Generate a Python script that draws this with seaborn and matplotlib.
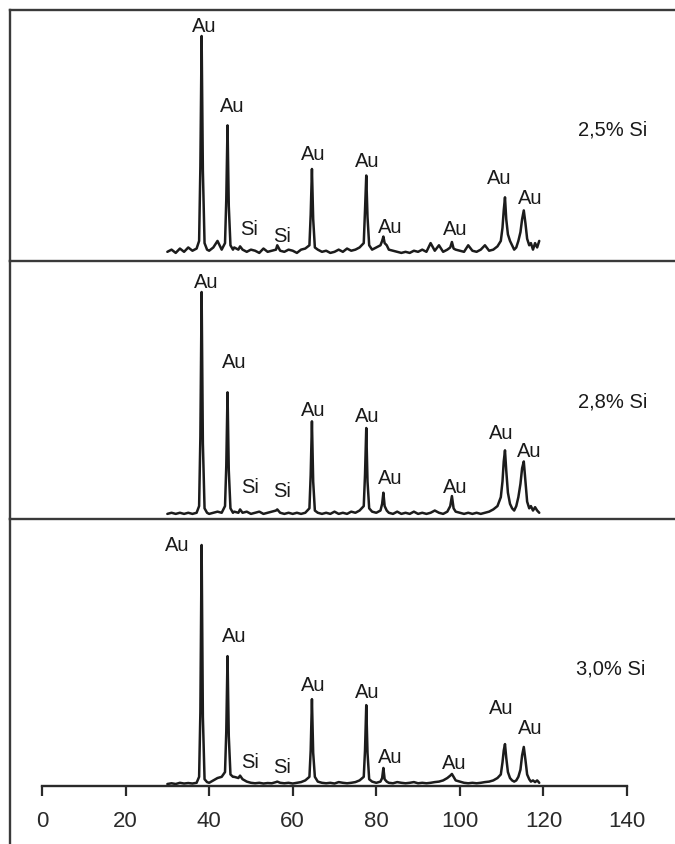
import matplotlib
matplotlib.use("Agg")
import matplotlib.pyplot as plt
import seaborn as sns
import pandas as pd

# ---- data -------------------------------------------------------------
two_theta = [
    30, 31, 32, 33, 34, 35, 36, 37,
    37.6, 37.9, 38.2, 38.5, 38.9,
    39.5, 40, 41, 42, 43,
    43.8, 44.1, 44.4, 44.7, 45.1,
    45.7, 46, 47, 47.4, 48, 49, 50, 51, 52, 53, 54, 55, 56, 56.3, 57, 58, 59, 60, 61, 62, 63,
    64.0, 64.3, 64.6, 64.9, 65.3,
    66, 67, 68, 69, 70, 71, 72, 73, 74, 75, 76,
    77.0, 77.3, 77.6, 77.9, 78.3,
    79, 80, 81,
    81.4, 81.7, 82.0,
    82.5, 83, 84, 85, 86, 87, 88, 89, 90, 91, 92, 93, 94, 95, 96, 97,
    97.7, 98.1, 98.5,
    99, 100, 101, 102, 103, 104, 105, 106, 107, 108, 109,
    109.8, 110.2, 110.5, 110.8, 111.1, 111.5, 112,
    112.5, 113, 113.5, 114,
    114.5, 114.9, 115.3, 115.7, 116.1,
    116.6, 117, 117.5, 118, 118.5, 119,
]

intensity_25 = [
    1, 2, 0.5, 2.5, 1, 3, 1.5, 2.5,
    6, 40, 100, 38, 5,
    2, 1.5, 3, 6, 2,
    5, 25, 59, 22, 4,
    2, 3, 2, 3.5, 2, 1, 2, 1.5, 0.5, 2.5, 1, 1.5, 2, 4, 1.5, 1, 2, 1.5, 0.5, 2, 2.5,
    4, 18, 39, 16, 3,
    2, 1, 1.5, 0.5, 1, 2, 1, 2.5, 1.5, 2, 3,
    5, 20, 36, 17, 4,
    2, 3, 4,
    6, 8, 5,
    4, 2, 1.5, 1, 0.5, 1, 0.5, 1.5, 1, 2, 1, 5, 1.5, 4, 1, 2,
    3, 5.5, 2.5,
    2, 1.5, 1, 4, 1.5, 1, 2, 4, 1.5, 2, 3.5,
    6, 12, 20, 26, 16, 9, 6,
    4, 2, 3, 6,
    10, 16, 20, 14, 7,
    4, 5, 2, 5, 3, 6,
]

intensity_28 = [
    0.5, 1, 0.5, 1, 0.5, 1, 0.5, 1,
    4, 35, 100, 32, 3,
    1, 0.5, 1, 1.5, 1,
    4, 22, 55, 20, 3,
    1, 1.5, 1, 2.5, 1, 1.5, 0.5, 1, 1.5, 0.5, 1, 1.5, 2, 2.5, 1, 0.5, 1, 0.5, 1, 0.5, 1,
    3, 18, 42, 15, 2,
    1, 0.5, 1, 0.5, 1.5, 0.5, 1, 0.5, 1.5, 1, 2,
    4, 18, 39, 15, 3,
    1.5, 1, 2,
    5, 10, 4,
    2, 1, 0.5, 1.5, 0.5, 1, 0.5, 1.5, 0.5, 1, 0.5, 1, 2, 1, 0.5, 1.5,
    4, 8.5, 3,
    1.5, 1, 0.5, 1, 0.5, 1, 0.5, 1, 1.5, 2.5, 4,
    8, 15, 24, 29, 20, 10, 5,
    3, 2, 4, 8,
    14, 21, 24, 15, 6,
    3, 4, 2, 3.5, 2, 1,
]

intensity_30 = [
    0, 0.3, 0, 0.5, 0.2, 0.4, 0.2, 0.5,
    3, 30, 100, 28, 2,
    0.8, 0.5, 1.5, 2.5, 3,
    5, 22, 53.5, 20, 4,
    3, 3, 2.5, 3.5, 2, 1, 0.5, 0.3, 0.5, 0.2, 0.4, 0.3, 0.8, 1, 0.5, 0.3, 0.5, 0.2, 0.5, 0.8, 1.5,
    3, 14, 35.5, 13, 3,
    1, 0.5, 0.3, 0.5, 0.2, 0.8, 0.5, 0.3, 0.5, 0.8, 1.5,
    3, 14, 33, 13, 2,
    1, 0.5, 1,
    2.5, 6.7, 2,
    1, 0.5, 0.3, 0.8, 0.5, 0.3, 0.5, 0.8, 0.3, 0.5, 0.3, 0.5, 0.8, 1, 1.5, 2.5,
    3.5, 4.2, 3,
    1.5, 1, 0.5, 0.3, 0.5, 0.3, 0.5, 0.8, 1, 1.5, 2.5,
    4, 9, 14, 16.7, 11, 5, 2.5,
    1.5, 1, 1.5, 3,
    6, 12, 15.5, 10, 4,
    2, 1, 1.5, 0.8, 1.5, 0.5,
]

sample_names = ["2,5% Si", "2,8% Si", "3,0% Si"]

peak_labels = ["Au", "Au", "Si", "Si", "Au", "Au", "Au", "Au", "Au", "Au"]
label_x_25 = [38.8, 45.5, 49.5, 57.4, 64.8, 77.8, 83.3, 98.8, 109.4, 116.8]
label_y_25 = [105, 68.3, 11.5, 8.3, 45.9, 42.7, 12.8, 11.5, 35.3, 26.1]
label_x_28 = [39.2, 46.1, 49.8, 57.4, 64.9, 77.8, 83.3, 98.8, 109.8, 116.5]
label_y_28 = [104.5, 69, 13, 10.8, 47.5, 44.4, 16.6, 13, 37.2, 28.7]
label_x_30 = [32.4, 46.1, 49.8, 57.4, 64.9, 77.8, 83.3, 98.6, 109.8, 116.8]
label_y_30 = [100.4, 62, 9.6, 7.5, 41.8, 38.5, 11.7, 9.2, 31.8, 23.8]

name_x = [136.6, 136.6, 136.2]
name_y = [57.3, 51, 48.5]

x_ticks = [0, 20, 40, 60, 80, 100, 120, 140]

# ---- drawing ----------------------------------------------------------
sns.set_style("white")
plt.rcParams["font.family"] = ["Liberation Sans", "DejaVu Sans"]

W, H = 675, 845
fig = plt.figure(figsize=(W / 100, H / 100), dpi=100)

left = 10 / W
width = 1 - left
px_per_unit = 585 / 140
xlim = ((10 - 42) / px_per_unit, (675 - 42) / px_per_unit)

# panel geometry in pixels: (top, bottom, baseline, px per intensity unit)
panels = [(11, 262, 255, 2.18), (262, 520, 516, 2.23), (520, 845, 785, 2.39)]
series = [intensity_25, intensity_28, intensity_30]
labels_x = [label_x_25, label_x_28, label_x_30]
labels_y = [label_y_25, label_y_28, label_y_30]

line_col = "#1c1c1c"
frame_col = "#3a3a3a"
text_col = "#1a1a1a"

for i, (top, bot, base, upp) in enumerate(panels):
    ax = fig.add_axes([left, 1 - bot / H, width, (bot - top) / H])
    df = pd.DataFrame({"2theta": two_theta, "I": series[i]})
    sns.lineplot(data=df, x="2theta", y="I", ax=ax, color=line_col,
                 linewidth=1.8, sort=False, estimator=None)
    ax.set_xlim(*xlim)
    ax.set_ylim((base - bot) / upp, (base - top) / upp)
    ax.set_xlabel("")
    ax.set_ylabel("")
    ax.set_yticks([])
    for s in ax.spines.values():
        s.set_color(frame_col)
        s.set_linewidth(1.7)
    ax.spines["right"].set_visible(False)
    ax.spines["top"].set_visible(True)
    ax.spines["left"].set_visible(True)
    for lx, ly, lt in zip(labels_x[i], labels_y[i], peak_labels):
        ax.text(lx, ly, lt, ha="center", va="center", fontsize=14.5,
                color=text_col)
    ax.text(name_x[i], name_y[i], sample_names[i], ha="center", va="center",
            fontsize=14.5, color=text_col)
    if i < 2:
        ax.spines["bottom"].set_visible(False)
        ax.set_xticks([])
    else:
        ax.spines["bottom"].set_position(("data", -0.8))
        ax.spines["bottom"].set_bounds(0, 140)
        ax.spines["bottom"].set_color("#2a2a2a")
        ax.set_xticks(x_ticks)
        ax.set_xticklabels([str(t) for t in x_ticks])
        ax.tick_params(axis="x", direction="out", length=7, width=1.6,
                       color="#2a2a2a", labelsize=16, pad=10,
                       labelcolor="#2a2a2a", bottom=True)

fig.savefig("out.png", dpi=100)
